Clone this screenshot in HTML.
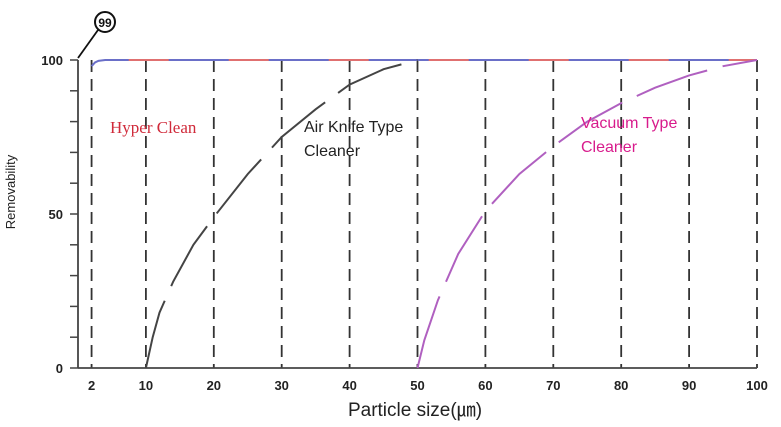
<!DOCTYPE html>
<html><head><meta charset="utf-8"><style>
html,body{margin:0;padding:0;background:#fff;}
svg{display:block;font-family:"Liberation Sans",sans-serif;}
</style></head><body>
<svg id="chart" width="781" height="427" viewBox="0 0 781 427">
<g id="grid"></g><g id="axes"></g><g id="series"></g>
<text x="110" y="133" fill="#d02a3a" font-family="Liberation Serif,serif" font-size="17">Hyper Clean</text>
<text x="304" y="132" fill="#222" font-size="16">Air Knife Type</text>
<text x="304" y="156" fill="#222" font-size="16">Cleaner</text>
<text x="581" y="128" fill="#d81b8c" font-size="16">Vacuum Type</text>
<text x="581" y="152" fill="#d81b8c" font-size="16">Cleaner</text>
<text x="15" y="192" transform="rotate(-90 15 192)" text-anchor="middle" font-size="13" fill="#222">Removability</text>
<text x="415" y="416" text-anchor="middle" font-size="19" fill="#222">Particle size(㎛)</text>
<circle cx="105" cy="22" r="10" fill="#fff" stroke="#111" stroke-width="2"></circle>
<text x="105" y="27" text-anchor="middle" font-size="12" font-weight="bold" fill="#111">99</text>
<line x1="98" y1="30" x2="78" y2="58" stroke="#111" stroke-width="1.8"></line>
</svg>
<script>
const xTicks=[2,10,20,30,40,50,60,70,80,90,100];
const yTicks=[0,50,100];
const hyperX=[2,2.5,3,4,6,100];
const hyperY=[98,99.2,99.7,100,100,100];
const airX=[10,11,12,14,17,20,25,30,35,40,45,50];
const airY=[0,10,18,28,40,49,63,75,84,92,97,100];
const vacX=[50,51,53,56,60,65,70,75,80,85,90,95,100];
const vacY=[0,9,22,37,51,63,72,80,86,91,95,98,100];
const NS="http://www.w3.org/2000/svg";
const X=v=>78+v*6.79, Y=v=>368-v*3.08;
function mk(p,t,a){const e=document.createElementNS(NS,t);for(const k in a)e.setAttribute(k,a[k]);p.appendChild(e);return e;}
const grid=document.getElementById('grid'),axes=document.getElementById('axes'),series=document.getElementById('series');
xTicks.forEach(v=>{
 const l=mk(grid,'line',{x1:X(v),x2:X(v),y1:Y(100),y2:Y(0),stroke:'#333','stroke-width':1.8,'stroke-dasharray':'12,7'});
 
 
 const t=mk(axes,'text',{x:X(v),y:390,'text-anchor':'middle','font-size':13,'font-weight':'bold',fill:'#222'});t.textContent=v;
 
 
});
for(let v=0;v<=100;v+=10){const l=mk(axes,'line',{x1:70,x2:78,y1:Y(v),y2:Y(v),stroke:'#444','stroke-width':1.5});
 
 }
yTicks.forEach(v=>{const t=mk(axes,'text',{x:63,y:Y(v)+5,'text-anchor':'end','font-size':13,'font-weight':'bold',fill:'#222'});t.textContent=v;
 
 });
const ya=mk(axes,'line',{x1:78,x2:78,y1:Y(100),y2:Y(0),stroke:'#444','stroke-width':1.8});


const xa=mk(axes,'line',{x1:78,x2:X(100),y1:Y(0),y2:Y(0),stroke:'#444','stroke-width':1.8});


function path(xs,ys){let d='';xs.forEach((x,i)=>{d+=(i?'L':'M')+X(x).toFixed(1)+' '+Y(ys[i]).toFixed(1)+' ';});return d;}
const h1=mk(series,'path',{d:path(hyperX,hyperY),fill:'none',stroke:'#6a6fc8','stroke-width':2});


const h2=mk(series,'path',{d:path(hyperX.slice(4),hyperY.slice(4)),fill:'none',stroke:'#e07070','stroke-width':2,'stroke-dasharray':'40,60','stroke-dashoffset':'-10'});


const a=mk(series,'path',{d:path(airX,airY),fill:'none',stroke:'#444','stroke-width':2,'stroke-dasharray':'70,16'});


const v=mk(series,'path',{d:path(vacX,vacY),fill:'none',stroke:'#b060c0','stroke-width':2,'stroke-dasharray':'75,16'});


</script>
</body></html>
